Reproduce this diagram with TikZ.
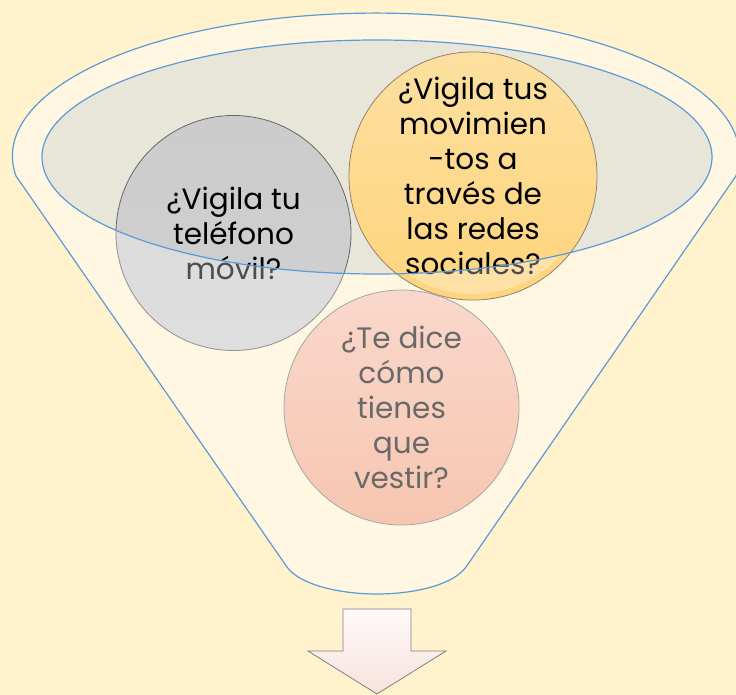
\documentclass[tikz,border=0pt]{standalone}
\usepackage{fontspec}
\setmainfont{Poppins}

\definecolor{paper}{RGB}{255,242,204}
\definecolor{funnelfill}{RGB}{255,247,225}
\definecolor{funnelline}{RGB}{91,155,213}
\definecolor{rimfill}{RGB}{232,230,217}
\definecolor{txtgrey}{RGB}{105,105,105}
\definecolor{greytop}{RGB}{204,204,204}
\definecolor{greybot}{RGB}{208,208,208}
\definecolor{orangetop}{RGB}{253,224,160}
\definecolor{orangebot}{RGB}{255,212,125}
\definecolor{pinktop}{RGB}{249,216,203}
\definecolor{pinkbot}{RGB}{247,198,177}
\definecolor{arrowtop}{RGB}{253,249,248}
\definecolor{arrowbot}{RGB}{247,226,222}

\begin{document}
\begin{tikzpicture}[x=1pt,y=-1pt,
    bubble/.style={circle, minimum size=235pt, inner sep=0pt, align=center,
        font=\fontsize{29.5}{35}\selectfont, line width=0.8pt},
    rimline/.style={draw=funnelline, line width=1.2pt}]
        \useasboundingbox (0,0) rectangle (736,695);
        \fill[paper] (0,0) rectangle (736,695);

        % funnel
        \filldraw[fill=funnelfill, rimline] (16,176)
            arc[start angle=172, end angle=368, x radius=363.5, y radius=143]
            -- (466,567) .. controls (453,585) and (414,594) .. (377,594)
            .. controls (340,594) and (300,585) .. (287,567) -- cycle;

        % rim (fill)
        \coordinate (rim) at (377,157);
        \fill[rimfill] (rim) ellipse [x radius=335, y radius=117];

        % circles
        \node[bubble, draw=gray!80!black, top color=greytop, bottom color=greybot]
            (phone) at (233.5,233) {¿Vigila tu\\teléfono\\móvil?};
        \node[bubble, draw=gray!70!brown, top color=orangetop, bottom color=orangebot]
            (social) at (473,176) {¿Vigila tus\\movimien\\-tos a\\través de\\las redes\\sociales?};
        \node[bubble, draw=gray!70, top color=pinktop, bottom color=pinkbot, text=txtgrey]
            (dress) at (401.5,407.5) {¿Te dice\\cómo\\tienes\\que\\vestir?};

        % below the rim the circles fade
        \begin{scope}[even odd rule]
            \clip (0,0) rectangle (736,695)
                (rim) ellipse [x radius=335, y radius=117];
            \fill[white, opacity=0.3] (phone.center) circle [radius=118];
            \fill[white, opacity=0.3] (social.center) circle [radius=118];
        \end{scope}
        \draw[rimline] (rim) ellipse [x radius=335, y radius=117];

        % arrow out
        \draw[line width=0.8pt, draw=gray, top color=arrowtop, bottom color=arrowbot]
            (343,609) -- (411,609) -- (411,651) -- (446,651) -- (377,694)
            -- (308,651) -- (343,651) -- cycle;
    \end{tikzpicture}
\end{document}
